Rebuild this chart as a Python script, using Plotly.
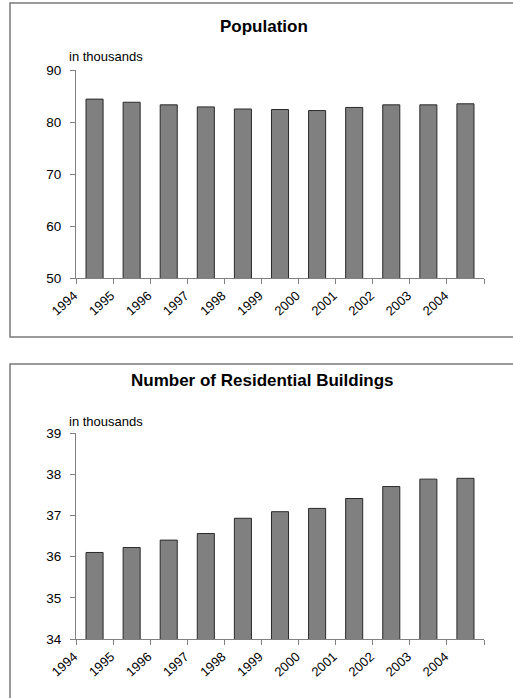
import plotly.graph_objects as go

W, H = 513, 698

years = ["1994", "1995", "1996", "1997", "1998", "1999", "2000", "2001", "2002", "2003", "2004"]
population = [84.4, 83.8, 83.3, 82.9, 82.5, 82.4, 82.2, 82.8, 83.3, 83.3, 83.5]
buildings = [36.1, 36.22, 36.4, 36.56, 36.93, 37.09, 37.17, 37.41, 37.7, 37.88, 37.9]

pop_ticks = [50, 60, 70, 80, 90]
bld_ticks = [34, 35, 36, 37, 38, 39]

FONT = "Liberation Sans, Arial, sans-serif"
BAR = "#808080"
EDGE = "#2a2a2a"
AX = "#808080"

def px_x(x):
    return x / W

def px_y(y):
    return 1 - y / H

n = len(years)
centers = [i + 0.5 for i in range(n)]
tickvals = list(range(n + 1))
ticktext = years + [""]

fig = go.Figure()
fig.add_trace(go.Bar(x=centers, y=population, width=0.46, marker=dict(color=BAR, line=dict(color=EDGE, width=1)),
                     xaxis="x", yaxis="y", showlegend=False))
fig.add_trace(go.Bar(x=centers, y=buildings, width=0.46, marker=dict(color=BAR, line=dict(color=EDGE, width=1)),
                     xaxis="x2", yaxis="y2", showlegend=False))

xcommon = dict(range=[0, n], tickmode="array", tickvals=tickvals, ticktext=ticktext, tickangle=-42,
               showline=True, linecolor=AX, linewidth=1, ticks="outside", ticklen=5, tickcolor=AX,
               showgrid=False, zeroline=False, tickfont=dict(family=FONT, size=13, color="black"),
               ticklabelstandoff=-1, ticklabelshift=-2,
               domain=[px_x(76), px_x(484)], fixedrange=True, automargin=False)
ycommon = dict(showline=True, linecolor=AX, linewidth=1, ticks="outside", ticklen=5, tickcolor=AX,
               showgrid=False, zeroline=False, tickfont=dict(family=FONT, size=13.5, color="black"),
               ticklabelstandoff=6, fixedrange=True, automargin=False)

fig.update_layout(
    width=W, height=H, margin=dict(l=0, r=0, t=0, b=0, pad=0), autosize=False,
    paper_bgcolor="white", plot_bgcolor="white", bargap=0,
    xaxis=dict(**xcommon, anchor="y"),
    yaxis=dict(**ycommon, range=[50, 90], tickvals=pop_ticks, domain=[px_y(278), px_y(70)], anchor="x"),
    xaxis2=dict(**xcommon, anchor="y2"),
    yaxis2=dict(**ycommon, range=[34, 39], tickvals=bld_ticks, domain=[px_y(639), px_y(433)], anchor="x2"),
    font=dict(family=FONT, color="black"),
)

shapes = [
    dict(type="rect", xref="paper", yref="paper", x0=px_x(10), x1=1.02, y0=px_y(337), y1=px_y(3),
         line=dict(color="#7a7a7a", width=1.5), fillcolor="rgba(0,0,0,0)", layer="below"),
    dict(type="rect", xref="paper", yref="paper", x0=px_x(10), x1=1.02, y0=-0.02, y1=px_y(364),
         line=dict(color="#7a7a7a", width=1.5), fillcolor="rgba(0,0,0,0)", layer="below"),
]
fig.update_layout(shapes=shapes)

annotations = [
    dict(text="<b>Population</b>", x=px_x(264), y=px_y(26), xref="paper", yref="paper",
         showarrow=False, font=dict(family=FONT, size=17, color="black"), xanchor="center", yanchor="middle"),
    dict(text="<b>Number of Residential Buildings</b>", x=px_x(262), y=px_y(380), xref="paper", yref="paper",
         showarrow=False, font=dict(family=FONT, size=17, color="black"), xanchor="center", yanchor="middle"),
    dict(text="in thousands", x=px_x(67), y=px_y(57), xref="paper", yref="paper",
         showarrow=False, font=dict(family=FONT, size=13, color="black"), xanchor="left", yanchor="middle"),
    dict(text="in thousands", x=px_x(67), y=px_y(421), xref="paper", yref="paper",
         showarrow=False, font=dict(family=FONT, size=13, color="black"), xanchor="left", yanchor="middle"),
]
fig.update_layout(annotations=annotations)

fig.write_html("out.html", config={"displayModeBar": False, "staticPlot": True},
               post_script="document.body.style.margin='0';document.body.style.overflow='hidden';")
